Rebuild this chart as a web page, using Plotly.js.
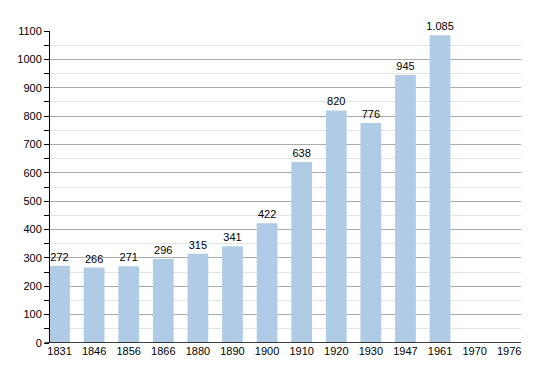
<!DOCTYPE html>
<html><head><meta charset="utf-8">
<script src="https://cdn.plot.ly/plotly-3.0.1.min.js"></script>
<style>body{margin:0;}#c{width:550px;height:373px;}</style>
</head><body><div id="c"></div>
<script>
const years = ['1831','1846','1856','1866','1880','1890','1900','1910','1920','1930','1947','1961','1970','1976'];
const population = [272,266,271,296,315,341,422,638,820,776,945,1085,null,null];
const yTicks = [0,100,200,300,400,500,600,700,800,900,1000,1100];

Plotly.newPlot('c', [{
  type:'bar', x:years, y:population, width:0.6,
  marker:{color:'#b0cbe6'},
  texttemplate:'%{y:,}', textposition:'outside', cliponaxis:false, constraintext:'none',
  textfont:{family:'Liberation Sans, Arial, sans-serif', size:11, color:'#000'},
  hoverinfo:'none'
}], {
  width:550, height:373,
  margin:{l:50, r:29, t:31, b:30},
  separators:',.',
  paper_bgcolor:'#fff', plot_bgcolor:'#fff',
  showlegend:false,
  font:{family:'Liberation Sans, Arial, sans-serif', size:11, color:'#000'},
  bargap:0.4,
  uniformtext:{mode:false},
  xaxis:{type:'category', range:[-0.275,13.34], showgrid:false, ticks:'', showline:false, zeroline:false, fixedrange:true, tickfont:{size:11}},
  yaxis:{range:[0,1100], tickvals:yTicks, showline:true, linecolor:'#000', linewidth:1,
    ticks:'outside', ticklen:5, tickcolor:'#000', gridcolor:'#aaaaaa', gridwidth:1, zeroline:false,
    minor:{dtick:50, showgrid:true, gridcolor:'#e4e4e4', ticks:'outside', ticklen:5, tickcolor:'#000'},
    tickfont:{size:11}, ticksuffix:'  '},
  shapes:[{type:'line', xref:'paper', yref:'y', x0:-0.011, x1:1, y0:0, y1:0, line:{color:'#000', width:1.5}}]
}, {staticPlot:true});
</script></body></html>
